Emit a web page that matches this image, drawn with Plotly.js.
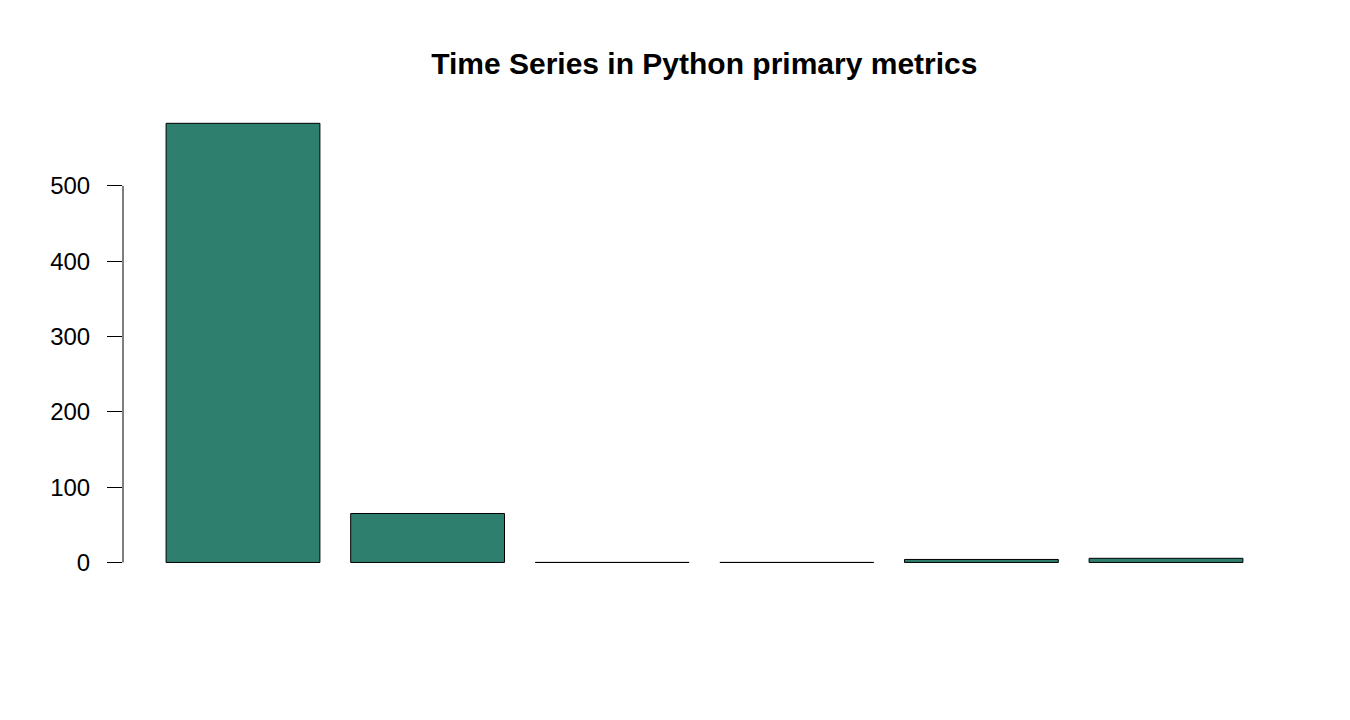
<!DOCTYPE html>
<html>
<head>
<meta charset="utf-8">
<script src="https://cdn.plot.ly/plotly-3.0.1.min.js"></script>
<style>
  html, body { margin: 0; padding: 0; background: #ffffff; }
  #chart { width: 1350px; height: 720px; }
</style>
</head>
<body>
<div id="chart"></div>
<script>
// values (no category labels shown)
const categories = ["m1", "m2", "m3", "m4", "m5", "m6"];
const values = [583, 65, 0, 0, 4, 5.5];
const tickVals = [0, 100, 200, 300, 400, 500];

const barColor = "#2E7F6E";

const trace = {
  type: "bar",
  x: categories,
  y: values,
  marker: { color: barColor, line: { color: "#000000", width: 1 } },
  hoverinfo: "y",
};

const layout = {
  width: 1350,
  height: 720,
  margin: { l: 123, r: 64, t: 106, b: 140 },
  paper_bgcolor: "#ffffff",
  plot_bgcolor: "#ffffff",
  font: { family: "Liberation Sans, Arial, sans-serif", color: "#000000" },
  title: {
    text: "<b>Time Series in Python primary metrics</b>",
    font: { size: 30, color: "#000000" },
    x: 0.5217,
    xanchor: "center",
    y: 0.912,
    yanchor: "middle",
  },
  bargap: 0.1667,
  showlegend: false,
  xaxis: {
    type: "category",
    range: [-0.65, 5.65],
    showticklabels: false,
    ticks: "",
    showgrid: false,
    zeroline: false,
    showline: false,
  },
  yaxis: {
    range: [-23.3, 606],
    tickvals: tickVals,
    ticktext: tickVals.map(String),
    ticks: "outside",
    ticklen: 15,
    tickcolor: "#000000",
    tickwidth: 1,
    ticklabelstandoff: 12,
    tickfont: { size: 24, color: "#000000" },
    showgrid: false,
    zeroline: false,
    showline: false,
  },
  shapes: [
    {
      type: "line",
      xref: "paper",
      yref: "y",
      x0: 0,
      x1: 0,
      y0: tickVals[0],
      y1: tickVals[tickVals.length - 1],
      line: { color: "#000000", width: 1 },
    },
  ],
};

Plotly.newPlot("chart", [trace], layout, { displayModeBar: false, staticPlot: true });
</script>
</body>
</html>
